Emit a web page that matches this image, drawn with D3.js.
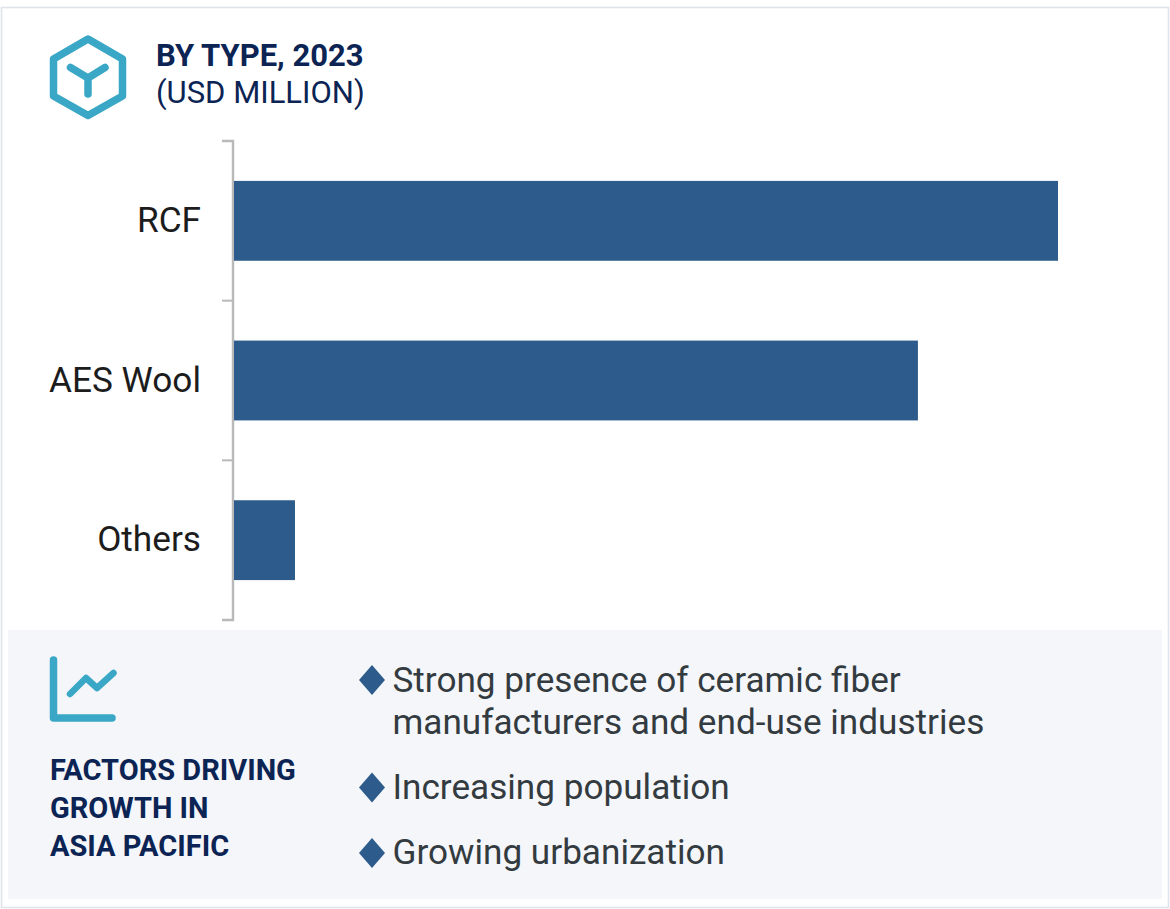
<!DOCTYPE html>
<html><head><meta charset="utf-8">
<script src="https://cdn.jsdelivr.net/npm/d3@7"></script>
<style>html,body{margin:0;padding:0;background:#fff}svg{display:block}text{font-family:Roboto,sans-serif}</style>
</head><body><svg id="c" width="1170" height="909"></svg>
<script>
const categories = ["RCF","AES Wool","Others"];
const values = [100, 83, 7.4];
const titleLines = ["BY TYPE, 2023","(USD MILLION)"];
const factorTitle = ["FACTORS DRIVING","GROWTH IN","ASIA PACIFIC"];
const factors = [["Strong presence of ceramic fiber","manufacturers and end-use industries"],["Increasing population"],["Growing urbanization"]];
const factorY = [692, 799, 864];

const svg = d3.select("#c");
const navy="#0c2454", teal="#39a7c5", bar="#2d5c8c", ink="#333b40";
svg.append("rect").attr("x",1.5).attr("y",7.5).attr("width",1167).attr("height",900).attr("fill","#fff").attr("stroke","#e0e3ea").attr("stroke-width",1.6);
svg.append("rect").attr("x",8).attr("y",630).attr("width",1154).attr("height",269).attr("fill","#f4f6fa");

// header icon
const hex=[[88,39],[122.5,59],[122.5,96],[88,115.5],[53.5,96],[53.5,59]];
svg.append("path").attr("d",d3.line()(hex)+"Z").attr("fill","none").attr("stroke",teal).attr("stroke-width",7.5).attr("stroke-linejoin","round");
svg.append("path").attr("d","M70.5 67.5L88 78L105 67.5M88 78V94").attr("fill","none").attr("stroke",teal).attr("stroke-width",7.5).attr("stroke-linecap","round").attr("stroke-linejoin","round");

svg.selectAll("text.t").data(titleLines).join("text").attr("class","t").attr("x",156).attr("y",(d,i)=>66+i*36.5)
 .attr("font-size",31).attr("font-weight",(d,i)=>i?400:700).attr("fill",navy).text(d=>d);

// chart
const y=d3.scaleBand().domain(categories).range([141,620]).paddingInner(0.5).paddingOuter(0.25);
const x=d3.scaleLinear().domain([0,100]).range([234,1058]);
const ax=svg.append("g").attr("transform","translate(233,0)");
const edges=d3.range(categories.length+1).map(i=>141+i*y.step());
ax.append("path").attr("d","M-11 141H0V620H-11").attr("fill","none").attr("stroke","#b9b9b9").attr("stroke-width",2.4);
ax.selectAll("line").data(edges.slice(1,-1)).join("line").attr("x1",-11).attr("x2",0).attr("y1",d=>d).attr("y2",d=>d).attr("stroke","#b9b9b9").attr("stroke-width",2);
svg.selectAll("rect.b").data(categories).join("rect").attr("class","b").attr("x",x(0)).attr("y",d=>y(d)).attr("height",y.bandwidth()).attr("width",(d,i)=>x(values[i])-x(0)).attr("fill",bar);
svg.selectAll("text.c").data(categories).join("text").attr("class","c").attr("x",201).attr("y",d=>y(d)+y.bandwidth()/2+11).attr("text-anchor","end").attr("font-size",35.2).attr("fill","#1c1c1c").text(d=>d);

// bottom icon
svg.append("path").attr("d","M53.5 660V718H112").attr("fill","none").attr("stroke",teal).attr("stroke-width",7.5).attr("stroke-linecap","round").attr("stroke-linejoin","round");
svg.append("path").attr("d","M70 694L86 678L97 688L113.5 673").attr("fill","none").attr("stroke",teal).attr("stroke-width",6.5).attr("stroke-linecap","round").attr("stroke-linejoin","round");
svg.selectAll("text.f").data(factorTitle).join("text").attr("class","f").attr("x",50).attr("y",(d,i)=>779.5+i*38).attr("font-size",29).attr("font-weight",700).attr("fill",navy).text(d=>d);

// bullets
const g=svg.selectAll("g.k").data(factors).join("g").attr("class","k");
g.append("path").attr("d",(d,i)=>{const c=680+[0,107.5,173][i];return `M359 ${c}L372 ${c-15}L385 ${c}L372 ${c+15}Z`;}).attr("fill",bar);
g.each(function(d,i){d3.select(this).selectAll("text").data(d).join("text").attr("x",392.5).attr("y",(l,j)=>factorY[i]+j*42).attr("font-size",35.15).attr("fill",ink).text(l=>l);});
</script></body></html>
